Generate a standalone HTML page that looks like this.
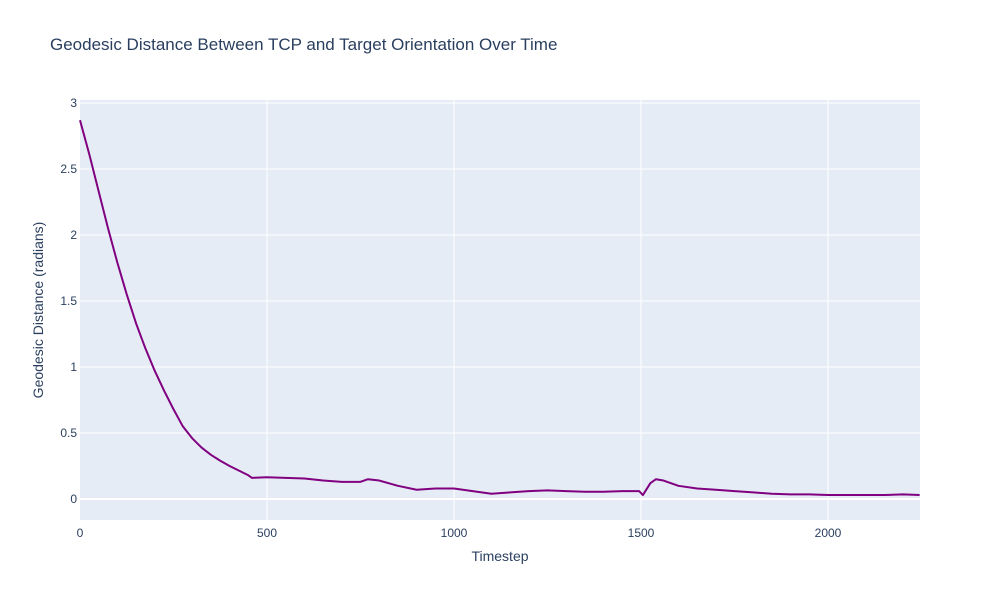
<!DOCTYPE html>
<html><head><meta charset="utf-8"><style>
body{margin:0;background:#fff;font-family:"Liberation Sans",sans-serif}
</style></head><body>
<svg id="chart" width="1000" height="600" xmlns="http://www.w3.org/2000/svg">
<rect width="1000" height="600" fill="#fff"/>
<text x="50" y="50" font-size="17" fill="#2a3f5f">Geodesic Distance Between TCP and Target Orientation Over Time</text>
<rect x="80" y="100" width="840" height="420" fill="#e5ecf6"/>
<g id="grid"></g><g id="ticks"></g>
<g id="series"></g>
<text x="500" y="561" font-size="14" fill="#2a3f5f" text-anchor="middle">Timestep</text>
<text transform="translate(43,310) rotate(-90)" font-size="14" fill="#2a3f5f" text-anchor="middle">Geodesic Distance (radians)</text>
</svg>
<script>
const timesteps=[0,25,50,75,100,125,150,175,200,225,250,275,300,325,350,375,400,425,450,460,500,550,600,650,700,750,770,800,850,900,950,1000,1050,1100,1150,1200,1250,1300,1350,1400,1450,1495,1505,1525,1540,1560,1600,1650,1700,1750,1800,1850,1900,1950,2000,2050,2100,2150,2200,2245];
const distances=[2.87,2.61,2.33,2.05,1.79,1.55,1.33,1.14,0.97,0.82,0.68,0.55,0.46,0.39,0.335,0.29,0.25,0.215,0.18,0.16,0.165,0.16,0.155,0.14,0.13,0.13,0.15,0.14,0.1,0.07,0.08,0.08,0.06,0.04,0.05,0.06,0.065,0.06,0.055,0.055,0.06,0.06,0.03,0.12,0.15,0.14,0.1,0.08,0.07,0.06,0.05,0.04,0.035,0.035,0.03,0.03,0.03,0.03,0.035,0.03];
const xTicks=[0,500,1000,1500,2000];
const yTicks=[0,0.5,1,1.5,2,2.5,3];
const X0=80,X1=920,Y0=520,Y1=100,xmin=0,xmax=2246,ymin=-0.159,ymax=3.023;
const sx=v=>X0+(v-xmin)/(xmax-xmin)*(X1-X0);
const sy=v=>Y0-(v-ymin)/(ymax-ymin)*(Y0-Y1);
const NS="http://www.w3.org/2000/svg";
const grid=document.getElementById('grid'),ticks=document.getElementById('ticks');
xTicks.forEach(t=>{
 const l=document.createElementNS(NS,'line');
 l.setAttribute('x1',sx(t));l.setAttribute('x2',sx(t));l.setAttribute('y1',Y1);l.setAttribute('y2',Y0);
 l.setAttribute('stroke','#fff');l.setAttribute('stroke-width',t===0?0:1);
 
 
 grid.appendChild(l);
 const tx=document.createElementNS(NS,'text');
 tx.setAttribute('x',sx(t));tx.setAttribute('y',Y0+17);tx.setAttribute('font-size','12');tx.setAttribute('fill','#2a3f5f');tx.setAttribute('text-anchor','middle');
 tx.textContent=t;
 
 
 ticks.appendChild(tx);
});
yTicks.forEach(t=>{
 const l=document.createElementNS(NS,'line');
 l.setAttribute('x1',X0);l.setAttribute('x2',X1);l.setAttribute('y1',sy(t));l.setAttribute('y2',sy(t));
 l.setAttribute('stroke','#fff');l.setAttribute('stroke-width',t===0?2:1);
 
 
 grid.appendChild(l);
 const tx=document.createElementNS(NS,'text');
 tx.setAttribute('x',X0-3);tx.setAttribute('y',sy(t)+4);tx.setAttribute('font-size','12');tx.setAttribute('fill','#2a3f5f');tx.setAttribute('text-anchor','end');
 tx.textContent=t;
 
 
 ticks.appendChild(tx);
});
const p=document.createElementNS(NS,'polyline');
p.setAttribute('points',timesteps.map((t,i)=>sx(t)+','+sy(distances[i])).join(' '));
p.setAttribute('fill','none');p.setAttribute('stroke','#800080');p.setAttribute('stroke-width','2');
p.setAttribute('stroke-linejoin','round');


document.getElementById('series').appendChild(p);
</script>
</body></html>
